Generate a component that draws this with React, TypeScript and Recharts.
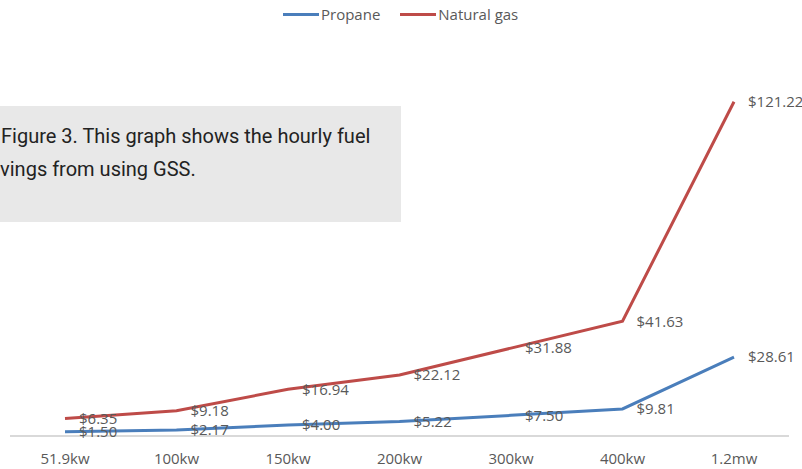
import React from 'react'
import { LineChart, Line, XAxis, YAxis, LabelList } from 'recharts'

const CATEGORIES = ['51.9kw', '100kw', '150kw', '200kw', '300kw', '400kw', '1.2mw']
const PROPANE = [1.5, 2.17, 4.0, 5.22, 7.5, 9.81, 28.61]
const NATURAL_GAS = [6.35, 9.18, 16.94, 22.12, 31.88, 41.63, 121.22]

const COLORS = { propane: '#4a7ebb', gas: '#be4b48', text: '#595959', axis: '#d9d9d9' }

const data = CATEGORIES.map((c, i) => ({ cat: c, propane: PROPANE[i], gas: NATURAL_GAS[i] }))

const money = (v: any) => `$${Number(v).toFixed(2)}`
const labelFont = { fontFamily: 'Open Sans, sans-serif', fontSize: 15, fill: COLORS.text }

function LegendItem({ color, label }: { color: string; label: string }) {
  return (
    <span style={{ display: 'inline-flex', alignItems: 'center', marginRight: 20 }}>
      <span style={{ display: 'inline-block', width: 36, height: 3, background: color, marginRight: 2 }} />
      <span>{label}</span>
    </span>
  )
}

export default function App() {
  return (
    <div style={{ position: 'absolute', left: 0, top: 0, width: 802, height: 469, background: '#fff', overflow: 'hidden' }}>
      <div style={{
        position: 'absolute', top: 4, left: 283, fontFamily: 'Open Sans, sans-serif',
        fontSize: 15, color: COLORS.text, display: 'flex', whiteSpace: 'nowrap',
      }}>
        <LegendItem color={COLORS.propane} label="Propane" />
        <LegendItem color={COLORS.gas} label="Natural gas" />
      </div>

      <LineChart width={802} height={469} data={data} margin={{ top: 50, right: 13, left: 10, bottom: 3 }}>
        <XAxis
          dataKey="cat"
          padding={{ left: 55, right: 55 }}
          stroke={COLORS.axis}
          strokeWidth={2}
          tickLine={false}
          tickSize={0}
          tickMargin={17}
          tick={{ ...labelFont, fontSize: 15 }}
        />
        <YAxis hide domain={[0, 140]} />
        <Line type="linear" dataKey="propane" stroke={COLORS.propane} strokeWidth={3} dot={false} isAnimationActive={false}>
          <LabelList dataKey="propane" position="right" offset={14} formatter={money} style={labelFont} />
        </Line>
        <Line type="linear" dataKey="gas" stroke={COLORS.gas} strokeWidth={3} dot={false} isAnimationActive={false}>
          <LabelList dataKey="gas" position="right" offset={14} formatter={money} style={labelFont} />
        </Line>
      </LineChart>

      <div style={{
        position: 'absolute', left: 0, top: 106, width: 401, height: 116, background: '#e8e8e8',
        overflow: 'hidden', fontFamily: 'Roboto, sans-serif', fontSize: 20, color: '#222', lineHeight: '24px',
      }}>
        <div style={{ position: 'absolute', left: 1, top: 18, whiteSpace: 'nowrap' }}>
          Figure 3. This graph shows the hourly fuel
        </div>
        <div style={{ position: 'absolute', left: -21, top: 51, whiteSpace: 'nowrap' }}>
          savings from using GSS.
        </div>
      </div>
    </div>
  )
}
